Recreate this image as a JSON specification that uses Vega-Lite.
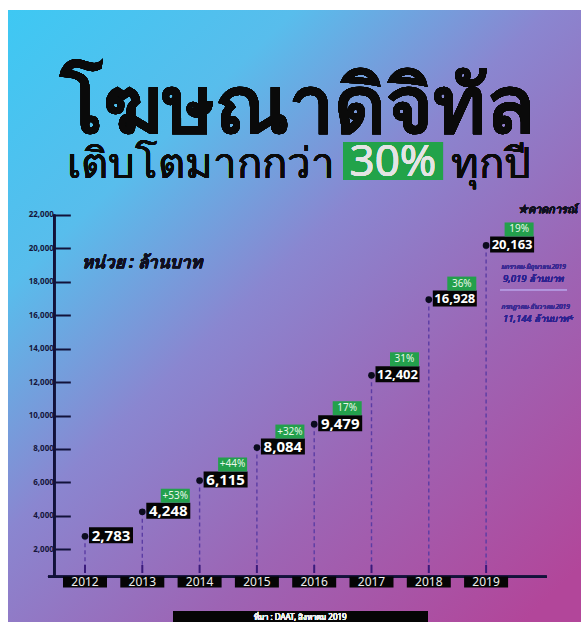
{
  "$schema": "https://vega.github.io/schema/vega-lite/v6.json",
  "width": 573,
  "height": 612,
  "autosize": {"type": "none"},
  "padding": {"left": 8, "top": 10, "right": 0, "bottom": 0},
  "background": "white",
  "config": {"view": {"stroke": null}, "font": "Noto Sans"},
  "data": {
    "values": [
      {"year": 2012, "value": 2783, "pct": null},
      {"year": 2013, "value": 4248, "pct": "+53%"},
      {"year": 2014, "value": 6115, "pct": "+44%"},
      {"year": 2015, "value": 8084, "pct": "+32%"},
      {"year": 2016, "value": 9479, "pct": "17%"},
      {"year": 2017, "value": 12402, "pct": "31%"},
      {"year": 2018, "value": 16928, "pct": "36%"},
      {"year": 2019, "value": 20163, "pct": "19%"}
    ]
  },
  "layer": [
    {
      "mark": {"type": "rect", "fill": {"gradient": "linear", "x1": 0, "y1": 0, "x2": 0.9, "y2": 1, "stops": [
        {"offset": 0, "color": "#3ec8f3"},
        {"offset": 0.25, "color": "#58bdec"},
        {"offset": 0.47, "color": "#8a86d0"},
        {"offset": 0.72, "color": "#9d64b4"},
        {"offset": 1, "color": "#b2469a"}
      ]}},
      "encoding": {
        "x": {"datum": 2010.6562, "type": "quantitative", "axis": null, "scale": {"domain": [2010.6562, 2020.6562], "nice": false, "zero": false}},
        "x2": {"datum": 2020.6562},
        "y": {
          "datum": -2343, "type": "quantitative",
          "scale": {"domain": [-2343, 34238], "nice": false, "zero": false},
          "axis": {
            "orient": "left", "offset": -46.3, "zindex": 1, "title": null,
            "values": [2000, 4000, 6000, 8000, 10000, 12000, 14000, 16000, 18000, 20000, 22000],
            "format": ",d", "domain": false, "grid": false,
            "tickSize": -16, "tickWidth": 2, "tickColor": "#12123a",
            "labelPadding": 17, "labelFontSize": 8, "labelFontWeight": "bold", "labelColor": "#15153a"
          }
        },
        "y2": {"datum": 34238}
      }
    },
    {
      "mark": {"type": "text", "text": "โฆษณาดิจิทัล", "fontSize": 80, "fontWeight": "bold", "color": "#0a0a0a", "align": "center", "baseline": "alphabetic"},
      "encoding": {
        "x": {"datum": 2015.709, "type": "quantitative", "axis": null, "scale": {"domain": [2010.6562, 2020.6562], "nice": false, "zero": false}},
        "y": {"datum": 26886, "type": "quantitative", "scale": {"domain": [-2343, 34238], "nice": false, "zero": false}}
      }
    },
    {
      "mark": {"type": "text", "text": "เติบโตมากกว่า", "fontSize": 42, "color": "#0a0a0a", "align": "right", "baseline": "alphabetic"},
      "encoding": {
        "x": {"datum": 2016.363, "type": "quantitative", "axis": null, "scale": {"domain": [2010.6562, 2020.6562], "nice": false, "zero": false}},
        "y": {"datum": 24196, "type": "quantitative", "scale": {"domain": [-2343, 34238], "nice": false, "zero": false}}
      }
    },
    {
      "mark": {"type": "rect", "color": "#22a34a"},
      "encoding": {
        "x": {"datum": 2016.503, "type": "quantitative", "axis": null, "scale": {"domain": [2010.6562, 2020.6562], "nice": false, "zero": false}},
        "x2": {"datum": 2018.248},
        "y": {"datum": 26346, "type": "quantitative", "scale": {"domain": [-2343, 34238], "nice": false, "zero": false}},
        "y2": {"datum": 24077}
      }
    },
    {
      "mark": {"type": "text", "text": "30%", "fontSize": 44, "color": "#e4e4e4", "align": "center", "baseline": "alphabetic"},
      "encoding": {
        "x": {"datum": 2017.375, "type": "quantitative", "axis": null, "scale": {"domain": [2010.6562, 2020.6562], "nice": false, "zero": false}},
        "y": {"datum": 24286, "type": "quantitative", "scale": {"domain": [-2343, 34238], "nice": false, "zero": false}}
      }
    },
    {
      "mark": {"type": "text", "text": "ทุกปี", "fontSize": 42, "color": "#0a0a0a", "align": "left", "baseline": "alphabetic"},
      "encoding": {
        "x": {"datum": 2018.387, "type": "quantitative", "axis": null, "scale": {"domain": [2010.6562, 2020.6562], "nice": false, "zero": false}},
        "y": {"datum": 24196, "type": "quantitative", "scale": {"domain": [-2343, 34238], "nice": false, "zero": false}}
      }
    },
    {
      "mark": {"type": "text", "text": "หน่วย : ล้านบาท", "fontSize": 17, "fontWeight": "bold", "fontStyle": "italic", "color": "#101020", "align": "left", "baseline": "middle"},
      "encoding": {
        "x": {"datum": 2011.942, "type": "quantitative", "axis": null, "scale": {"domain": [2010.6562, 2020.6562], "nice": false, "zero": false}},
        "y": {"datum": 19097, "type": "quantitative", "scale": {"domain": [-2343, 34238], "nice": false, "zero": false}}
      }
    },
    {
      "mark": {"type": "text", "text": "★คาดการณ์", "fontSize": 11, "fontWeight": "bold", "fontStyle": "italic", "color": "#101020", "align": "left", "baseline": "middle"},
      "encoding": {
        "x": {"datum": 2019.5567, "type": "quantitative", "axis": null, "scale": {"domain": [2010.6562, 2020.6562], "nice": false, "zero": false}},
        "y": {"datum": 22283, "type": "quantitative", "scale": {"domain": [-2343, 34238], "nice": false, "zero": false}}
      }
    },
    {
      "mark": {"type": "text", "text": "มกราคม-มิถุนายน 2019", "fontSize": 6.5, "fontStyle": "italic", "color": "#3b2a92", "align": "left", "baseline": "middle"},
      "encoding": {
        "x": {"datum": 2019.255, "type": "quantitative", "axis": null, "scale": {"domain": [2010.6562, 2020.6562], "nice": false, "zero": false}},
        "y": {"datum": 18894, "type": "quantitative", "scale": {"domain": [-2343, 34238], "nice": false, "zero": false}}
      }
    },
    {
      "mark": {"type": "text", "text": "9,019 ล้านบาท", "fontSize": 9.5, "fontStyle": "italic", "color": "#2c2290", "align": "left", "baseline": "middle"},
      "encoding": {
        "x": {"datum": 2019.295, "type": "quantitative", "axis": null, "scale": {"domain": [2010.6562, 2020.6562], "nice": false, "zero": false}},
        "y": {"datum": 18159, "type": "quantitative", "scale": {"domain": [-2343, 34238], "nice": false, "zero": false}}
      }
    },
    {
      "mark": {"type": "rule", "color": "#b49ae0", "strokeWidth": 1, "opacity": 0.6},
      "encoding": {
        "x": {"datum": 2019.243, "type": "quantitative", "axis": null, "scale": {"domain": [2010.6562, 2020.6562], "nice": false, "zero": false}},
        "x2": {"datum": 2020.412},
        "y": {"datum": 17502, "type": "quantitative", "scale": {"domain": [-2343, 34238], "nice": false, "zero": false}}
      }
    },
    {
      "mark": {"type": "text", "text": "กรกฎาคม-ธันวาคม 2019", "fontSize": 6.5, "fontStyle": "italic", "color": "#3b2a92", "align": "left", "baseline": "middle"},
      "encoding": {
        "x": {"datum": 2019.255, "type": "quantitative", "axis": null, "scale": {"domain": [2010.6562, 2020.6562], "nice": false, "zero": false}},
        "y": {"datum": 16485, "type": "quantitative", "scale": {"domain": [-2343, 34238], "nice": false, "zero": false}}
      }
    },
    {
      "mark": {"type": "text", "text": "11,144 ล้านบาท*", "fontSize": 9.5, "fontStyle": "italic", "color": "#2c2290", "align": "left", "baseline": "middle"},
      "encoding": {
        "x": {"datum": 2019.295, "type": "quantitative", "axis": null, "scale": {"domain": [2010.6562, 2020.6562], "nice": false, "zero": false}},
        "y": {"datum": 15768, "type": "quantitative", "scale": {"domain": [-2343, 34238], "nice": false, "zero": false}}
      }
    },
    {
      "mark": {"type": "rule", "color": "#12123a", "strokeWidth": 2},
      "encoding": {
        "x": {"datum": 2011.464, "type": "quantitative", "axis": null, "scale": {"domain": [2010.6562, 2020.6562], "nice": false, "zero": false}},
        "y": {"datum": 365, "type": "quantitative", "scale": {"domain": [-2343, 34238], "nice": false, "zero": false}},
        "y2": {"datum": 22000}
      }
    },
    {
      "mark": {"type": "rule", "color": "#12123a", "strokeWidth": 2},
      "encoding": {
        "x": {"datum": 2011.354, "type": "quantitative", "axis": null, "scale": {"domain": [2010.6562, 2020.6562], "nice": false, "zero": false}},
        "x2": {"datum": 2020.058},
        "y": {"datum": 365, "type": "quantitative", "scale": {"domain": [-2343, 34238], "nice": false, "zero": false}}
      }
    },
    {
      "mark": {"type": "rule", "color": "#5b3ca4", "strokeWidth": 1.4, "strokeDash": [4, 3]},
      "encoding": {
        "x": {"field": "year", "type": "quantitative", "axis": null, "scale": {"domain": [2010.6562, 2020.6562], "nice": false, "zero": false}},
        "y": {"field": "value", "type": "quantitative", "scale": {"domain": [-2343, 34238], "nice": false, "zero": false}},
        "y2": {"datum": 1064}
      }
    },
    {
      "mark": {"type": "rule", "color": "#3a1a7a", "strokeWidth": 2},
      "encoding": {
        "x": {"field": "year", "type": "quantitative", "axis": null, "scale": {"domain": [2010.6562, 2020.6562], "nice": false, "zero": false}},
        "y": {"datum": 1064, "type": "quantitative", "scale": {"domain": [-2343, 34238], "nice": false, "zero": false}},
        "y2": {"datum": 586}
      }
    },
    {
      "mark": {"type": "circle", "size": 45, "color": "#0b0b1e", "opacity": 1},
      "encoding": {
        "x": {"field": "year", "type": "quantitative", "axis": null, "scale": {"domain": [2010.6562, 2020.6562], "nice": false, "zero": false}},
        "y": {"field": "value", "type": "quantitative", "scale": {"domain": [-2343, 34238], "nice": false, "zero": false}}
      }
    },
    {
      "mark": {"type": "rect", "width": 44, "height": 16, "xOffset": 26, "yOffset": -1, "color": "#050505"},
      "encoding": {
        "x": {"field": "year", "type": "quantitative", "axis": null, "scale": {"domain": [2010.6562, 2020.6562], "nice": false, "zero": false}},
        "y": {"field": "value", "type": "quantitative", "scale": {"domain": [-2343, 34238], "nice": false, "zero": false}}
      }
    },
    {
      "mark": {"type": "text", "dx": 26, "dy": -0.5, "fontWeight": "bold", "color": "white", "align": "center", "baseline": "middle"},
      "encoding": {
        "x": {"field": "year", "type": "quantitative", "axis": null, "scale": {"domain": [2010.6562, 2020.6562], "nice": false, "zero": false}},
        "y": {"field": "value", "type": "quantitative", "scale": {"domain": [-2343, 34238], "nice": false, "zero": false}},
        "text": {"field": "value", "type": "quantitative", "format": ","},
        "size": {"condition": {"test": "datum.value < 10000", "value": 15}, "value": 13}
      }
    },
    {
      "transform": [{"filter": "datum.pct != null"}],
      "layer": [
        {
          "mark": {"type": "rect", "width": 29, "height": 14, "xOffset": 33, "yOffset": -16, "color": "#23a04c"},
          "encoding": {
            "x": {"field": "year", "type": "quantitative", "axis": null, "scale": {"domain": [2010.6562, 2020.6562], "nice": false, "zero": false}},
            "y": {"field": "value", "type": "quantitative", "scale": {"domain": [-2343, 34238], "nice": false, "zero": false}}
          }
        },
        {
          "mark": {"type": "text", "dx": 33, "dy": -16, "fontSize": 10, "color": "#e9f7ea", "align": "center", "baseline": "middle"},
          "encoding": {
            "x": {"field": "year", "type": "quantitative", "axis": null, "scale": {"domain": [2010.6562, 2020.6562], "nice": false, "zero": false}},
            "y": {"field": "value", "type": "quantitative", "scale": {"domain": [-2343, 34238], "nice": false, "zero": false}},
            "text": {"field": "pct", "type": "nominal"}
          }
        }
      ]
    },
    {
      "mark": {"type": "rect", "width": 44, "height": 11, "color": "#050505"},
      "encoding": {
        "x": {"field": "year", "type": "quantitative", "axis": null, "scale": {"domain": [2010.6562, 2020.6562], "nice": false, "zero": false}},
        "y": {"datum": 48, "type": "quantitative", "scale": {"domain": [-2343, 34238], "nice": false, "zero": false}}
      }
    },
    {
      "mark": {"type": "text", "fontSize": 12, "color": "#eeeeee", "align": "center", "baseline": "middle", "dy": 0.5},
      "encoding": {
        "x": {"field": "year", "type": "quantitative", "axis": null, "scale": {"domain": [2010.6562, 2020.6562], "nice": false, "zero": false}},
        "y": {"datum": 48, "type": "quantitative", "scale": {"domain": [-2343, 34238], "nice": false, "zero": false}},
        "text": {"field": "year", "type": "nominal"}
      }
    },
    {
      "mark": {"type": "rect", "color": "#050505"},
      "encoding": {
        "x": {"datum": 2013.536, "type": "quantitative", "axis": null, "scale": {"domain": [2010.6562, 2020.6562], "nice": false, "zero": false}},
        "x2": {"datum": 2017.986},
        "y": {"datum": -1686, "type": "quantitative", "scale": {"domain": [-2343, 34238], "nice": false, "zero": false}},
        "y2": {"datum": -2343}
      }
    },
    {
      "mark": {"type": "text", "text": "ที่มา : DAAT, สิงหาคม 2019", "fontSize": 8, "color": "#f0f0f0", "align": "center", "baseline": "middle"},
      "encoding": {
        "x": {"datum": 2015.761, "type": "quantitative", "axis": null, "scale": {"domain": [2010.6562, 2020.6562], "nice": false, "zero": false}},
        "y": {"datum": -2104, "type": "quantitative", "scale": {"domain": [-2343, 34238], "nice": false, "zero": false}}
      }
    }
  ]
}
